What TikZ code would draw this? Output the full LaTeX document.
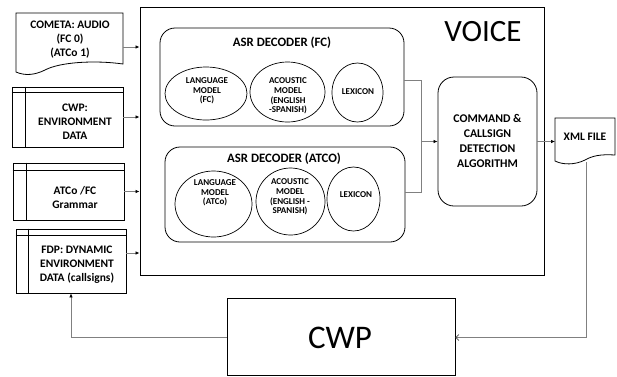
\documentclass[tikz,border=0pt]{standalone}
\usepackage{fontspec}
\setmainfont{Carlito}
\usetikzlibrary{shapes.geometric,arrows.meta,calc}
\begin{document}
\begin{tikzpicture}[x=1pt,y=-1pt,
  box/.style={draw=black,line width=0.8pt,inner sep=0pt},
  rbox/.style={box,rounded corners=15pt},
  oval/.style={draw=black,line width=0.7pt,ellipse,inner sep=0pt},
  lbl/.style={font=\bfseries\fontsize{11.5}{14}\selectfont,align=center,inner sep=0pt},
  title/.style={font=\bfseries\fontsize{12.8}{15}\selectfont,align=center,inner sep=0pt},
  tiny/.style={font=\bfseries\fontsize{9}{9.7}\selectfont,align=center,inner sep=0pt},
  big/.style={font=\fontsize{31}{36}\selectfont,inner sep=0pt},
  wire/.style={draw=black!50,line width=0.7pt},
  conn/.style={wire,-{Latex[black,length=4pt,width=3.5pt]}},
  barb/.style={wire,-{Straight Barb[black!70,length=3pt,width=6pt]}}
]
\useasboundingbox (0,0) rectangle (617,376);
\fill[white] (0,0) rectangle (617,376);

% VOICE container
\node[box,line width=1pt,minimum width=404pt,minimum height=268pt] (voice) at (342,141) {};
\node[big] (voicet) at (483,32) {VOICE};

% ASR decoder FC
\node[rbox,minimum width=244pt,minimum height=98pt] (asr1) at (282,77) {};
\node[title] (asr1t) at (282,43) {ASR DECODER (FC)};
\node[oval,minimum width=82pt,minimum height=53pt] (lm1) at (206,93.5) {};
\node[tiny] (lm1t) at (207,91) {LANGUAGE\\MODEL\\(FC)};
\node[oval,minimum width=75pt,minimum height=60pt] (am1) at (287.5,92) {};
\node[tiny] (am1t) at (288,96) {ACOUSTIC\\MODEL\\(ENGLISH\\-SPANISH)};
\node[oval,minimum width=51pt,minimum height=59pt] (lx1) at (357.5,92.5) {};
\node[tiny] (lx1t) at (358,92) {LEXICON};

% ASR decoder ATCO
\node[rbox,minimum width=240pt,minimum height=95pt] (asr2) at (285,194.5) {};
\node[title] (asr2t) at (284,159) {ASR DECODER (ATCO)};
\node[oval,minimum width=77pt,minimum height=66pt] (lm2) at (213.5,204) {};
\node[tiny] (lm2t) at (215,193) {LANGUAGE\\MODEL\\(ATCo)};
\node[oval,minimum width=69pt,minimum height=67pt] (am2) at (290.5,201.5) {};
\node[tiny] (am2t) at (290,197) {ACOUSTIC\\MODEL\\(ENGLISH -\\SPANISH)};
\node[oval,minimum width=53pt,minimum height=64pt] (lx2) at (353.5,199) {};
\node[tiny] (lx2t) at (356,195) {LEXICON};

% Command detection
\node[rbox,minimum width=99pt,minimum height=129pt,rounded corners=16pt] (cmd) at (487.5,141.5) {};
\node[lbl,font=\bfseries\fontsize{11.8}{14.7}\selectfont] (cmdt) at (487.5,141) {COMMAND \&\\CALLSIGN\\DETECTION\\ALGORITHM};

% COMETA document shape
\draw[box] (16,13) -- (123,13) -- (123,64) .. controls (95,60) and (60,62) .. (45,70) .. controls (35,75) and (25,76) .. (16,72) -- cycle;
\node[lbl] (cometa) at (70,40) {COMETA: AUDIO\\(FC 0)\\(ATCo 1)};
\coordinate (cometaE) at (123,47);

% XML document shape
\draw[box] (555,118) -- (615,118) -- (615,155) .. controls (600,154) and (592,156) .. (585,160) .. controls (575,165) and (563,165) .. (555,161) -- cycle;
\node[lbl] (xml) at (585,137) {XML FILE};
\coordinate (xmlW) at (555,141.5);
\coordinate (xmlS) at (586,162);

% table-like input boxes
\node[box,minimum width=111pt,minimum height=60pt] (cwpenv) at (67.5,117) {};
\draw[box] ([xshift=14pt]cwpenv.north west) -- ([xshift=14pt]cwpenv.south west);
\draw[box] ([yshift=-6pt]cwpenv.north west) -- ([yshift=-6pt]cwpenv.north east);
\node[lbl] (cwpenvt) at (75,122) {CWP:\\ENVIRONMENT\\DATA};

\node[box,minimum width=111pt,minimum height=57pt] (gram) at (68.5,191.5) {};
\draw[box] ([xshift=14pt]gram.north west) -- ([xshift=14pt]gram.south west);
\draw[box] ([yshift=-8pt]gram.north west) -- ([yshift=-8pt]gram.north east);
\node[lbl] (gramt) at (75,197) {ATCo /FC\\Grammar};

\node[box,minimum width=110pt,minimum height=64pt] (fdp) at (71,261) {};
\draw[box] ([xshift=13pt]fdp.north west) -- ([xshift=13pt]fdp.south west);
\draw[box] ([yshift=-7pt]fdp.north west) -- ([yshift=-7pt]fdp.north east);
\node[lbl] (fdpt) at (77,265) {FDP: DYNAMIC\\ENVIRONMENT\\DATA (callsigns)};

% CWP box
\node[box,minimum width=228pt,minimum height=77pt] (cwp) at (341,336.5) {};
\node[big,font=\fontsize{33}{38}\selectfont] (cwpt) at (340,338) {CWP};

% helper coordinates
\coordinate (fdpE) at ([yshift=8pt]fdp.east);
\coordinate (asr1E) at ([yshift=-3pt]asr1.east);
\coordinate (asr2E) at ([yshift=2pt]asr2.east);
\coordinate (cwpE) at ([yshift=-1pt]cwp.east);
\coordinate (cwpW) at ([yshift=-1pt]cwp.west);
\coordinate (jx) at (421,0);

% connectors
\draw[conn] (cometaE) -- (voice.west |- cometaE);
\draw[conn] (cwpenv.east) -- (voice.west |- cwpenv.east);
\draw[conn] (gram.east) -- (voice.west |- gram.east);
\draw[conn] (fdpE) -- (voice.west |- fdpE);
\draw[wire] (asr1E) -- (asr1E -| jx) -- (asr2E -| jx) -- (asr2E);
\draw[conn] (jx |- cmd.west) -- (cmd.west);
\draw[conn] (cmd.east) -- (xmlW);
\draw[barb] (xmlS) -- (xmlS |- cwpE) -- (cwpE);
\draw[conn] (cwpW) -| (fdp.south);
\end{tikzpicture}
\end{document}
